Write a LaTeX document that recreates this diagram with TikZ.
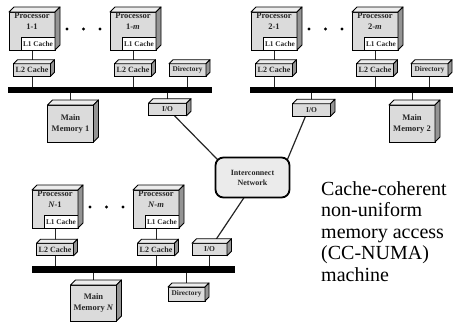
\documentclass[tikz,border=0pt]{standalone}
\usepackage{fontspec}
\setmainfont{Liberation Serif}
\pgfdeclarelayer{background}
\pgfsetlayers{background,main}
\definecolor{frontc}{gray}{0.86}
\definecolor{topc}{gray}{0.93}
\definecolor{sidec}{gray}{0.58}
\definecolor{netc}{gray}{0.92}
\definecolor{txtc}{gray}{0.15}
\tikzset{
  face/.style={draw=black, line width=0.9pt, fill=frontc, inner sep=0pt, outer sep=0pt,
    align=center, text=txtc, font=\bfseries\fontsize{8}{9}\selectfont},
  procbox/.style={face, minimum width=46pt, minimum height=38pt},
  l1box/.style={face, fill=white, minimum width=34pt, minimum height=13pt, anchor=south east,
    font=\bfseries\fontsize{7.3}{8}\selectfont},
  l2box/.style={face, minimum width=37pt, minimum height=12.5pt},
  dirbox/.style={face, minimum width=37pt, minimum height=12.5pt, font=\bfseries\fontsize{7.3}{8}\selectfont},
  iobox/.style={face, minimum width=38pt, minimum height=12.5pt, font=\bfseries\fontsize{7.5}{8}\selectfont},
  membox/.style={face, minimum width=46pt, minimum height=37pt, font=\bfseries\fontsize{8.5}{11}\selectfont},
  busbar/.style={fill=black, inner sep=0pt, outer sep=0pt, minimum height=6.5pt},
  wire/.style={line width=1pt, draw=black!85},
  proclabel/.style={anchor=north, inner sep=1pt, align=center, text=txtc,
    font=\bfseries\fontsize{8.5}{10.5}\selectfont},
  netbox/.style={draw=black, line width=1.8pt, fill=netc, rounded corners=8pt,
    minimum width=74pt, minimum height=40pt, align=center, text=txtc,
    font=\bfseries\fontsize{8}{10}\selectfont},
}
\newcommand\cubefaces[2]{%
  \filldraw[fill=topc, line width=0.9pt, line join=round]
    (#1.north west) -- ++(#2,-#2) -- ([shift={(#2,-#2)}]#1.north east) -- (#1.north east) -- cycle;
  \filldraw[fill=sidec, line width=0.9pt, line join=round]
    (#1.north east) -- ([shift={(#2,-#2)}]#1.north east) -- ([shift={(#2,-#2)}]#1.south east) -- (#1.south east) -- cycle;
}
\begin{document}
\begin{tikzpicture}[x=1pt,y=-1pt]
\useasboundingbox (0,0) rectangle (453,322);

% ---------- cluster 1 ----------
\node[procbox, label={[proclabel]north:{Processor\\1-1}}] (p11) at (32,31) {};
\node[l1box] (c11) at (p11.south east) {L1 Cache};
\cubefaces{p11}{5}
\node[procbox, label={[proclabel]north:{Processor\\1-\textit{m}}}] (p1m) at (133,31) {};
\node[l1box] (c1m) at (p1m.south east) {L1 Cache};
\cubefaces{p1m}{5}
\fill (67,29) circle (1.7pt) (83.5,29) circle (1.7pt) (100,29) circle (1.7pt);
\node[l2box] (l2a) at (32,70) {L2 Cache};
\cubefaces{l2a}{4}
\node[l2box] (l2b) at (133,70) {L2 Cache};
\cubefaces{l2b}{4}
\node[dirbox] (dir1) at (187.5,70) {Directory};
\cubefaces{dir1}{4}
\node[busbar, minimum width=204pt] (bus1) at (110,90) {};
\node[membox] (mem1) at (70.5,123.5) {Main\\Memory 1};
\cubefaces{mem1}{5}
\node[iobox] (io1) at (167.5,109.5) {I/O};
\cubefaces{io1}{4.5}

% ---------- cluster 2 ----------
\node[procbox, label={[proclabel]north:{Processor\\2-1}}] (p21) at (274,31) {};
\node[l1box] (c21) at (p21.south east) {L1 Cache};
\cubefaces{p21}{5}
\node[procbox, label={[proclabel]north:{Processor\\2-\textit{m}}}] (p2m) at (375,31) {};
\node[l1box] (c2m) at (p2m.south east) {L1 Cache};
\cubefaces{p2m}{5}
\fill (309,29) circle (1.7pt) (325.5,29) circle (1.7pt) (342,29) circle (1.7pt);
\node[l2box] (l2c) at (274,70) {L2 Cache};
\cubefaces{l2c}{4}
\node[l2box] (l2d) at (375,70) {L2 Cache};
\cubefaces{l2d}{4}
\node[dirbox] (dir2) at (429.5,70) {Directory};
\cubefaces{dir2}{4}
\node[busbar, minimum width=203pt] (bus2) at (351.5,90) {};
\node[membox] (mem2) at (412,123.5) {Main\\Memory 2};
\cubefaces{mem2}{5}
\node[iobox] (io2) at (311.5,110) {I/O};
\cubefaces{io2}{4.5}

% ---------- cluster N ----------
\node[procbox, label={[proclabel]north:{Processor\\\textit{N}-1}}] (pN1) at (55,209) {};
\node[l1box] (cN1) at (pN1.south east) {L1 Cache};
\cubefaces{pN1}{5}
\node[procbox, label={[proclabel]north:{Processor\\\textit{N}-\textit{m}}}] (pNm) at (156,209) {};
\node[l1box] (cNm) at (pNm.south east) {L1 Cache};
\cubefaces{pNm}{5}
\fill (90,207) circle (1.7pt) (106.5,207) circle (1.7pt) (123,207) circle (1.7pt);
\node[l2box] (l2e) at (55,249.5) {L2 Cache};
\cubefaces{l2e}{4}
\node[l2box] (l2f) at (156,249.5) {L2 Cache};
\cubefaces{l2f}{4}
\node[iobox, minimum width=35pt] (ioN) at (209.5,249.5) {I/O};
\cubefaces{ioN}{4.5}
\node[busbar, minimum width=203pt] (busN) at (133.5,269.5) {};
\node[membox, minimum height=36pt] (memN) at (93.5,303) {Main\\Memory \textit{N}};
\cubefaces{memN}{5}
\node[dirbox, minimum height=14pt] (dirN) at (186.5,294) {Directory};
\cubefaces{dirN}{4}

% ---------- interconnect ----------
\node[netbox] (net) at (252.5,177.5) {Interconnect\\Network};

% ---------- caption ----------
\node[anchor=north west, align=left, inner sep=0pt, text=black,
  font=\fontsize{20}{21.5}\selectfont] (desc) at (321,181)
  {Cache-coherent\\non-uniform\\memory access\\(CC-NUMA)\\machine};

% ---------- connectors ----------
\begin{pgfonlayer}{background}
\foreach \p/\l/\b in {p11/l2a/bus1, p1m/l2b/bus1, p21/l2c/bus2, p2m/l2d/bus2, pN1/l2e/busN, pNm/l2f/busN}{
  \draw[wire] (\p.south) -- (\l.north);
  \draw[wire] (\l.south) -- (\l |- \b);
}
\draw[wire] (dir1.south) -- (dir1 |- bus1);
\draw[wire] (dir2.south) -- (dir2 |- bus2);
\draw[wire] (bus1 -| mem1) -- (mem1.north);
\draw[wire] (bus1 -| io1) -- (io1.north);
\draw[wire] (bus2 -| mem2) -- (mem2.north);
\draw[wire] (bus2 -| io2) -- (io2.north);
\draw[wire] (ioN.south) -- (ioN |- busN);
\draw[wire] (busN -| memN) -- (memN.north);
\draw[wire] (busN -| dirN) -- (dirN.north);
\draw[wire, line width=1.2pt] ([xshift=7pt]io1.south) -- ([shift={(3,3)}]net.north west);
\draw[wire, line width=1.2pt] ([xshift=-6pt]io2.south) -- ([shift={(-3,3)}]net.north east);
\draw[wire, line width=1.2pt] ([xshift=4pt]ioN.north) -- ([shift={(-7,-3)}]net.south);
\end{pgfonlayer}
\end{tikzpicture}
\end{document}
